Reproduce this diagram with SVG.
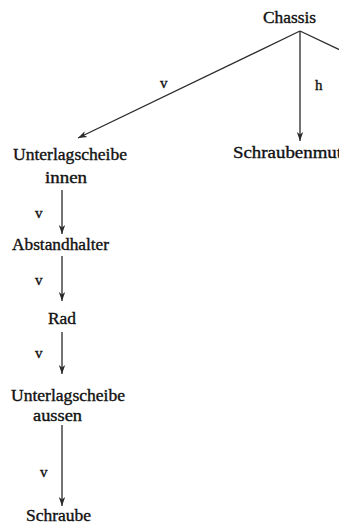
<svg xmlns="http://www.w3.org/2000/svg" width="339" height="529" viewBox="0 0 339 529">
<defs>
<style>
text{font-family:"Liberation Serif","Times New Roman",serif;font-size:16px;fill:#111;stroke:#111;stroke-width:0.35}
.lbl{font-size:15px}
.e{stroke:#2a2a2a;stroke-width:1.3;fill:none}
</style>
<marker id="ah" markerWidth="10" markerHeight="8" refX="9" refY="4" orient="auto" markerUnits="userSpaceOnUse">
<path d="M0,0.8 L9,4 L0,7.2 L2.5,4 Z" fill="#2a2a2a"/>
</marker>
</defs>
<rect width="339" height="529" fill="#fff"/>
<g id="connectors">
<line class="e" x1="300" y1="31" x2="78" y2="138" marker-end="url(#ah)"/>
<line class="e" x1="300" y1="31" x2="300" y2="141" marker-end="url(#ah)"/>
<line class="e" x1="300" y1="31" x2="340" y2="50"/>
<line class="e" x1="62" y1="190" x2="62" y2="234" marker-end="url(#ah)"/>
<line class="e" x1="62" y1="256" x2="62" y2="301" marker-end="url(#ah)"/>
<line class="e" x1="62" y1="332" x2="62" y2="374" marker-end="url(#ah)"/>
<line class="e" x1="62" y1="425" x2="62" y2="506" marker-end="url(#ah)"/>
<text class="lbl" x="160" y="88">v</text>
<text class="lbl" x="315" y="90">h</text>
<text class="lbl" x="35" y="218">v</text>
<text class="lbl" x="35" y="285">v</text>
<text class="lbl" x="35" y="358">v</text>
<text class="lbl" x="40" y="477">v</text>
</g>
<g id="chassis"><text x="263" y="23" textLength="53" lengthAdjust="spacingAndGlyphs">Chassis</text></g>
<g id="unterlagscheibe-innen">
<text x="13" y="160" textLength="114" lengthAdjust="spacingAndGlyphs">Unterlagscheibe</text>
<text x="45" y="183" textLength="42" lengthAdjust="spacingAndGlyphs">innen</text>
</g>
<g id="schraubenmutter"><text x="233" y="158" textLength="109" lengthAdjust="spacingAndGlyphs">Schraubenmut</text></g>
<g id="abstandhalter"><text x="12" y="250" textLength="97" lengthAdjust="spacingAndGlyphs">Abstandhalter</text></g>
<g id="rad"><text x="48" y="324" textLength="28" lengthAdjust="spacingAndGlyphs">Rad</text></g>
<g id="unterlagscheibe-aussen">
<text x="11" y="401" textLength="114" lengthAdjust="spacingAndGlyphs">Unterlagscheibe</text>
<text x="33" y="421" textLength="49" lengthAdjust="spacingAndGlyphs">aussen</text>
</g>
<g id="schraube"><text x="26" y="521" textLength="65" lengthAdjust="spacingAndGlyphs">Schraube</text></g>
</svg>
